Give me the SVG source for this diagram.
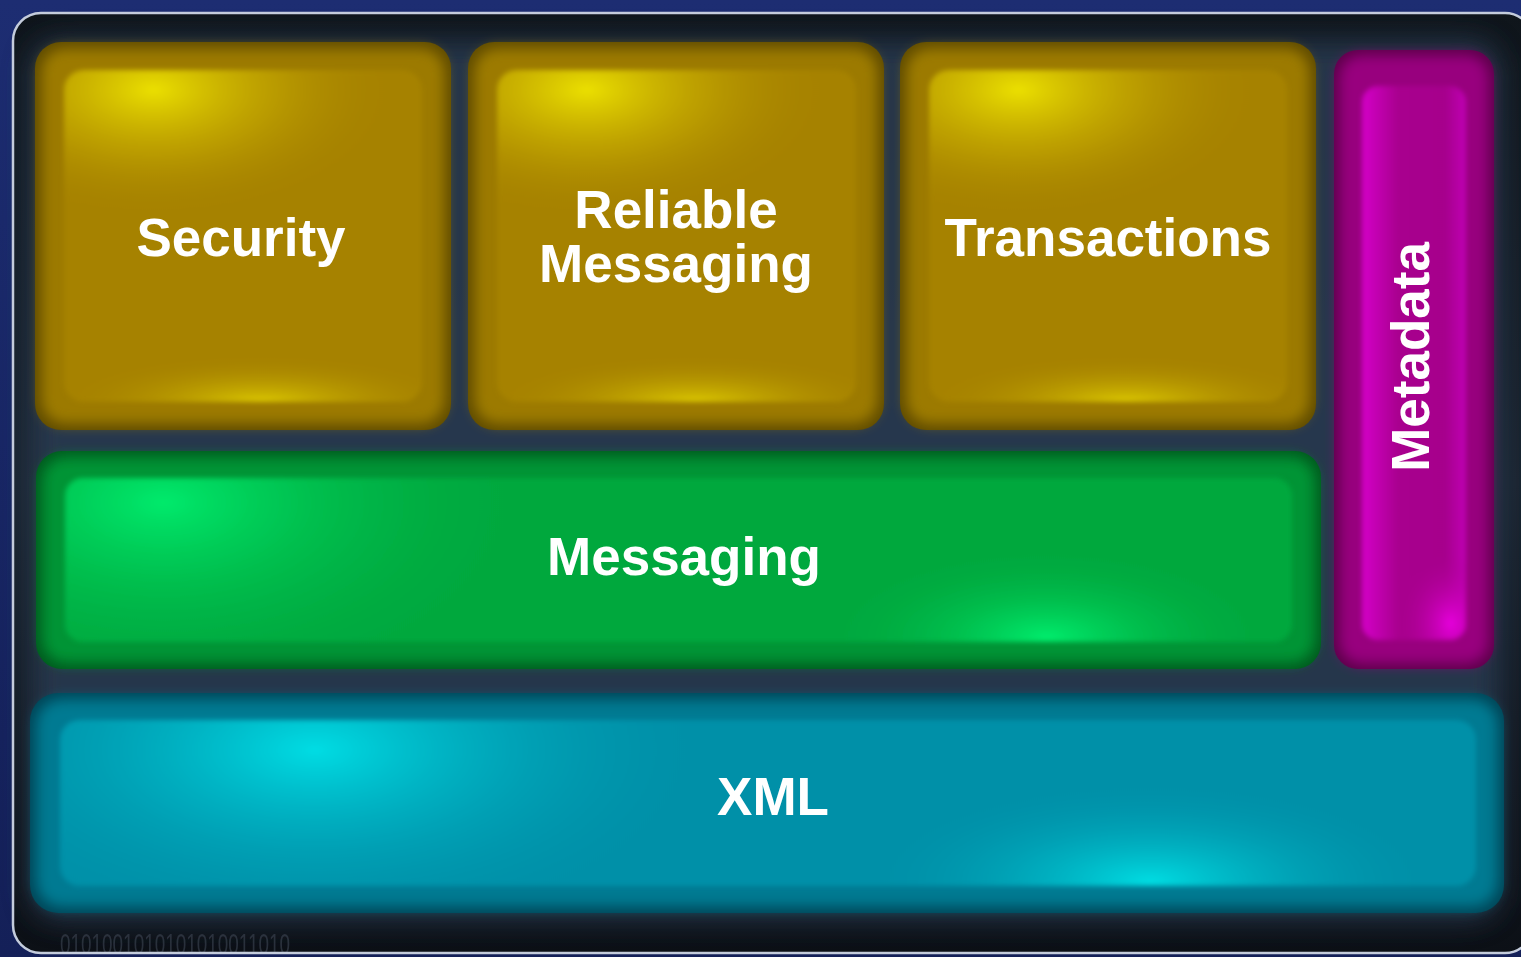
<svg xmlns="http://www.w3.org/2000/svg" width="1521" height="957" viewBox="0 0 1521 957">
  <defs>
    <style>
      .label { font-family: "Liberation Sans", Arial, sans-serif; font-weight: bold; font-size: 53px; fill: #ffffff; text-anchor: middle; }
      .bits { font-family: "Liberation Sans Narrow", "Liberation Sans", Arial, sans-serif; font-size: 30px; fill: #3e4654; opacity: 0.6; }
    </style>
    <linearGradient id="bg" x1="0" y1="0" x2="0" y2="1">
      <stop offset="0" stop-color="#1d2d72"/>
      <stop offset="1" stop-color="#142058"/>
    </linearGradient>
    <linearGradient id="panel" x1="0" y1="0" x2="0" y2="1">
      <stop offset="0" stop-color="#0f151b"/>
      <stop offset="0.5" stop-color="#1a2430"/>
      <stop offset="1" stop-color="#0c1016"/>
    </linearGradient>
    <clipPath id="panelClip"><rect x="13" y="13" width="1520" height="940" rx="28"/></clipPath>
    <filter id="blur2" x="-5%" y="-5%" width="110%" height="110%"><feGaussianBlur stdDeviation="2.5"/></filter>
    <filter id="blur6" x="-10%" y="-10%" width="120%" height="120%"><feGaussianBlur stdDeviation="7"/></filter>
    <filter id="blur14" x="-20%" y="-20%" width="140%" height="140%"><feGaussianBlur stdDeviation="14"/></filter>

    <!-- yellow -->
    <radialGradient id="yHi" cx="0.25" cy="0.06" r="0.45" gradientTransform="translate(0.25 0.06) scale(1.5 0.85) translate(-0.25 -0.06)">
      <stop offset="0" stop-color="#ebe000" stop-opacity="1"/>
      <stop offset="0.5" stop-color="#cdb400" stop-opacity="0.5"/>
      <stop offset="1" stop-color="#a68200" stop-opacity="0"/>
    </radialGradient>
    <radialGradient id="yLo" cx="0.55" cy="1" r="0.4" gradientTransform="translate(0.55 1) scale(1.4 0.35) translate(-0.55 -1)">
      <stop offset="0" stop-color="#dcc800" stop-opacity="1"/>
      <stop offset="1" stop-color="#a68200" stop-opacity="0"/>
    </radialGradient>
    <!-- green -->
    <radialGradient id="gHi" cx="0.08" cy="0.15" r="0.3" gradientTransform="translate(0.08 0.15) scale(1 4) translate(-0.08 -0.15)">
      <stop offset="0" stop-color="#00ea6c"/>
      <stop offset="1" stop-color="#00a83e" stop-opacity="0"/>
    </radialGradient>
    <radialGradient id="gLo" cx="0.8" cy="0.97" r="0.18" gradientTransform="translate(0.8 0.97) scale(1 3) translate(-0.8 -0.97)">
      <stop offset="0" stop-color="#00ec6c"/>
      <stop offset="1" stop-color="#00a83e" stop-opacity="0"/>
    </radialGradient>
    <!-- cyan -->
    <radialGradient id="cHi" cx="0.18" cy="0.18" r="0.28" gradientTransform="translate(0.18 0.18) scale(1 4) translate(-0.18 -0.18)">
      <stop offset="0" stop-color="#00dde4"/>
      <stop offset="1" stop-color="#0090a8" stop-opacity="0"/>
    </radialGradient>
    <radialGradient id="cLo" cx="0.77" cy="0.97" r="0.2" gradientTransform="translate(0.77 0.97) scale(1 3) translate(-0.77 -0.97)">
      <stop offset="0" stop-color="#00dce2"/>
      <stop offset="1" stop-color="#0090a8" stop-opacity="0"/>
    </radialGradient>
    <!-- magenta -->
    <linearGradient id="mSide" x1="0" y1="0" x2="1" y2="0">
      <stop offset="0" stop-color="#d400c8"/>
      <stop offset="0.35" stop-color="#a8008e"/>
      <stop offset="0.8" stop-color="#a6008c"/>
      <stop offset="1" stop-color="#c000b4"/>
    </linearGradient>
    <radialGradient id="mLo" cx="0.85" cy="0.97" r="0.5" gradientTransform="translate(0.85 0.97) scale(1 0.25) translate(-0.85 -0.97)">
      <stop offset="0" stop-color="#e600dc"/>
      <stop offset="1" stop-color="#a8008e" stop-opacity="0"/>
    </radialGradient>
  </defs>

  <!-- backdrop and framed panel -->
  <rect x="0" y="0" width="1521" height="957" fill="url(#bg)"/>
  <rect x="13" y="13" width="1520" height="940" rx="28" fill="url(#panel)"/>
  <!-- bluish glow in the gaps between the tiles -->
  <g opacity="0.8" filter="url(#blur14)">
    <rect x="30" y="40" width="1470" height="880" rx="30" fill="#2a3c54"/>
  </g>
  <g clip-path="url(#panelClip)">
    <text class="bits" x="60" y="954" textLength="230" lengthAdjust="spacingAndGlyphs">0101001010101010011010</text>
  </g>
  <rect x="13" y="13" width="1520" height="940" rx="28" fill="none" stroke="#c4ccdc" stroke-width="2.5"/>

  <!-- Security -->
  <g id="security">
    <rect x="35" y="42" width="416" height="388" rx="26" fill="#5e4a00"/>
    <rect x="41" y="48" width="404" height="376" rx="24" fill="#9c7a00" filter="url(#blur6)"/>
    <g filter="url(#blur2)">
      <rect x="64" y="70" width="358" height="332" rx="20" fill="#a68200"/>
      <rect x="64" y="70" width="358" height="332" rx="20" fill="url(#yHi)"/>
      <rect x="64" y="70" width="358" height="332" rx="20" fill="url(#yLo)"/>
    </g>
    <text class="label" x="241" y="256">Security</text>
  </g>

  <!-- Reliable Messaging -->
  <g id="reliable-messaging">
    <rect x="468" y="42" width="416" height="388" rx="26" fill="#5e4a00"/>
    <rect x="474" y="48" width="404" height="376" rx="24" fill="#9c7a00" filter="url(#blur6)"/>
    <g filter="url(#blur2)">
      <rect x="497" y="70" width="359" height="332" rx="20" fill="#a68200"/>
      <rect x="497" y="70" width="359" height="332" rx="20" fill="url(#yHi)"/>
      <rect x="497" y="70" width="359" height="332" rx="20" fill="url(#yLo)"/>
    </g>
    <text class="label" x="676" y="228">Reliable</text>
    <text class="label" x="676" y="282">Messaging</text>
  </g>

  <!-- Transactions -->
  <g id="transactions">
    <rect x="900" y="42" width="416" height="388" rx="26" fill="#5e4a00"/>
    <rect x="906" y="48" width="404" height="376" rx="24" fill="#9c7a00" filter="url(#blur6)"/>
    <g filter="url(#blur2)">
      <rect x="929" y="70" width="358" height="332" rx="20" fill="#a68200"/>
      <rect x="929" y="70" width="358" height="332" rx="20" fill="url(#yHi)"/>
      <rect x="929" y="70" width="358" height="332" rx="20" fill="url(#yLo)"/>
    </g>
    <text class="label" x="1108" y="256">Transactions</text>
  </g>

  <!-- Metadata -->
  <g id="metadata">
    <rect x="1334" y="50" width="160" height="619" rx="24" fill="#5a0048"/>
    <rect x="1339" y="55" width="150" height="609" rx="22" fill="#98007e" filter="url(#blur6)"/>
    <g filter="url(#blur2)">
      <rect x="1362" y="86" width="104" height="554" rx="16" fill="url(#mSide)"/>
      <rect x="1362" y="86" width="104" height="554" rx="16" fill="url(#mLo)"/>
    </g>
    <text class="label" transform="translate(1429 357) rotate(-90)" x="0" y="0">Metadata</text>
  </g>

  <!-- Messaging -->
  <g id="messaging">
    <rect x="36" y="451" width="1285" height="218" rx="26" fill="#005a1e"/>
    <rect x="42" y="457" width="1273" height="206" rx="24" fill="#009434" filter="url(#blur6)"/>
    <g filter="url(#blur2)">
      <rect x="65" y="478" width="1227" height="164" rx="18" fill="#00a83e"/>
      <rect x="65" y="478" width="1227" height="164" rx="18" fill="url(#gHi)"/>
      <rect x="65" y="478" width="1227" height="164" rx="18" fill="url(#gLo)"/>
    </g>
    <text class="label" x="684" y="575">Messaging</text>
  </g>

  <!-- XML -->
  <g id="xml">
    <rect x="30" y="693" width="1474" height="220" rx="28" fill="#004456"/>
    <rect x="36" y="699" width="1462" height="208" rx="26" fill="#007a92" filter="url(#blur6)"/>
    <g filter="url(#blur2)">
      <rect x="60" y="720" width="1416" height="166" rx="20" fill="#0090a8"/>
      <rect x="60" y="720" width="1416" height="166" rx="20" fill="url(#cHi)"/>
      <rect x="60" y="720" width="1416" height="166" rx="20" fill="url(#cLo)"/>
    </g>
    <text class="label" x="773" y="815">XML</text>
  </g>

  <!-- this layered stack has no connectors -->
  <g id="connectors"/>
</svg>
